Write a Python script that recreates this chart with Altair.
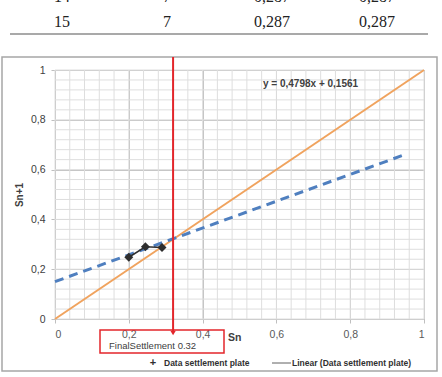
import altair as alt
import pandas as pd

# ---- data ----
sn = [0.2, 0.245, 0.29]            # Data settlement plate: Sn
sn1 = [0.248, 0.29, 0.287]         # Data settlement plate: Sn+1
trend_x = [0.0, 0.94]              # Linear (Data settlement plate)
trend_y = [0.15, 0.656]
ref_x = [0.0, 1.0]                 # Sn+1 = Sn line
ref_y = [0.0, 1.0]
final_settlement = 0.32
tick_values = [0, 0.2, 0.4, 0.6, 0.8, 1]
minor_grid = [round(i * 0.04, 2) for i in range(26)]
equation = "y = 0,4798x + 0,1561"
table_row_prev = ["14", "7", "0,287", "0,287"]
table_row = ["15", "7", "0,287", "0,287"]

FONT = "Liberation Sans"
W, H = 369, 249

xs = alt.Scale(domain=[0, 1], nice=False)
ys = alt.Scale(domain=[0, 1], nice=False)
lab = "replace(format(datum.value, '~g'), '.', ',')"
X_AX = alt.Axis(values=tick_values, labelExpr=lab, title=None, grid=True,
                gridColor="#c4c4c4", domainColor="#bfbfbf", tickColor="#bfbfbf",
                tickSize=4, labelPadding=6, labelColor="#595959", labelFontSize=10.5,
                labelFont=FONT)
Y_AX = alt.Axis(values=tick_values, labelExpr=lab, title=None, grid=True,
                gridColor="#c4c4c4", domainColor="#bfbfbf", tickColor="#bfbfbf",
                tickSize=4, labelPadding=6, labelColor="#404040", labelFontSize=10.5,
                labelFont=FONT)

one = pd.DataFrame({"k": [0]})

# minor grid
gx = alt.Chart(pd.DataFrame({"g": minor_grid})).mark_rule(color="#dedede", strokeWidth=1).encode(
    x=alt.X("g:Q", scale=xs, axis=X_AX), y=alt.value(0), y2=alt.value(H))
gy = alt.Chart(pd.DataFrame({"g": minor_grid})).mark_rule(color="#dedede", strokeWidth=1).encode(
    y=alt.Y("g:Q", scale=ys, axis=Y_AX), x=alt.value(0), x2=alt.value(W))

# orange reference line
ref = alt.Chart(pd.DataFrame({"x": ref_x, "y": ref_y})).mark_line(
    color="#f0a35e", strokeWidth=2).encode(
    x=alt.X("x:Q", scale=xs, axis=X_AX), y=alt.Y("y:Q", scale=ys, axis=Y_AX))

# data points
pts_df = pd.DataFrame({"x": sn, "y": sn1})
pline = alt.Chart(pts_df).mark_line(color="#303030", strokeWidth=1.5).encode(
    x=alt.X("x:Q", scale=xs, axis=X_AX), y=alt.Y("y:Q", scale=ys, axis=Y_AX))
pts = alt.Chart(pts_df).mark_point(shape="diamond", filled=True, size=80,
                                   color="#2e2e2e", opacity=1).encode(
    x=alt.X("x:Q", scale=xs, axis=X_AX), y=alt.Y("y:Q", scale=ys, axis=Y_AX))

# trend line (dashed)
trend = alt.Chart(pd.DataFrame({"x": trend_x, "y": trend_y})).mark_line(
    color="#4f7fbf", strokeWidth=3, strokeDash=[9, 6]).encode(
    x=alt.X("x:Q", scale=xs, axis=X_AX), y=alt.Y("y:Q", scale=ys, axis=Y_AX))

# outer chart frame
frame = alt.Chart(one).mark_rect(filled=False, stroke="#a6a6a6", strokeWidth=1.5).encode(
    x=alt.value(-53), x2=alt.value(382), y=alt.value(-13), y2=alt.value(301))

# red final settlement marker
fs_df = pd.DataFrame({"x": [final_settlement]})
red_line = alt.Chart(fs_df).mark_rule(color="#e3262b", strokeWidth=2).encode(
    x=alt.X("x:Q", scale=xs, axis=X_AX), y=alt.value(-13), y2=alt.value(262))
red_arrow = alt.Chart(fs_df).mark_point(shape="triangle-down", filled=True, size=30,
                                        color="#e3262b", opacity=1).encode(
    x=alt.X("x:Q", scale=xs, axis=X_AX), y=alt.value(263))
red_box = alt.Chart(one).mark_rect(filled=False, stroke="#e3262b", strokeWidth=1.5).encode(
    x=alt.value(45), x2=alt.value(169), y=alt.value(260), y2=alt.value(283))
red_text = alt.Chart(pd.DataFrame({"t": [f"FinalSettlement  {final_settlement}"]})).mark_text(
    align="left", baseline="middle", font=FONT, fontSize=9.5, color="#404040").encode(
    x=alt.value(54), y=alt.value(276), text="t:N")

# equation
eq = alt.Chart(pd.DataFrame({"t": [equation]})).mark_text(
    align="left", baseline="middle", font=FONT, fontSize=10, fontWeight="bold",
    color="#404040").encode(x=alt.value(208), y=alt.value(14), text="t:N")

# axis titles
xt = alt.Chart(pd.DataFrame({"t": ["Sn"]})).mark_text(
    align="left", baseline="middle", font=FONT, fontSize=10.5, fontWeight="bold",
    color="#404040").encode(x=alt.value(173), y=alt.value(268), text="t:N")
yt = alt.Chart(pd.DataFrame({"t": ["Sn+1"]})).mark_text(
    align="center", baseline="middle", font=FONT, fontSize=10, fontWeight="bold",
    angle=270, color="#404040").encode(x=alt.value(-35), y=alt.value(125), text="t:N")

# legend
leg1s = alt.Chart(pd.DataFrame({"t": ["+"]})).mark_text(
    align="center", baseline="middle", font=FONT, fontSize=11, fontWeight="bold",
    color="#303030").encode(x=alt.value(98), y=alt.value(293), text="t:N")
leg1 = alt.Chart(pd.DataFrame({"t": ["Data settlement plate"]})).mark_text(
    align="left", baseline="middle", font=FONT, fontSize=8.5, fontWeight="bold",
    color="#303030").encode(x=alt.value(109), y=alt.value(293), text="t:N")
leg2s = alt.Chart(one).mark_rule(color="#606060", strokeWidth=1).encode(
    x=alt.value(217), x2=alt.value(236), y=alt.value(293))
leg2 = alt.Chart(pd.DataFrame({"t": ["Linear (Data settlement plate)"]})).mark_text(
    align="left", baseline="middle", font=FONT, fontSize=8.5, fontWeight="bold",
    color="#303030").encode(x=alt.value(237), y=alt.value(293), text="t:N")

# table fragment above the chart
col_x = [7, 112, 217, 322]
tbl_prev = alt.Chart(pd.DataFrame({"t": table_row_prev, "c": col_x})).mark_text(
    align="center", baseline="alphabetic", font="Liberation Serif", fontSize=16,
    color="#222222").encode(x=alt.X("c:Q", scale=None), y=alt.value(-68), text="t:N")
tbl = alt.Chart(pd.DataFrame({"t": table_row, "c": col_x})).mark_text(
    align="center", baseline="alphabetic", font="Liberation Serif", fontSize=16,
    color="#222222").encode(x=alt.X("c:Q", scale=None), y=alt.value(-43), text="t:N")
tbl_line = alt.Chart(one).mark_rule(color="#8c8c8c", strokeWidth=1.5).encode(
    x=alt.value(-45), x2=alt.value(373), y=alt.value(-36))

chart = alt.layer(
    gx, gy, ref, trend, pline, pts, frame, red_box, red_text, red_line, red_arrow,
    eq, xt, yt, leg1s, leg1, leg2s, leg2, tbl_prev, tbl, tbl_line
).properties(
    width=W, height=H,
    autosize=alt.AutoSizeParams(type="none"),
    padding={"left": 55, "top": 70, "right": 18, "bottom": 58},
).configure_view(stroke=None).configure(background="white")

chart.save("out.html", embed_options={"renderer": "svg", "actions": False})
